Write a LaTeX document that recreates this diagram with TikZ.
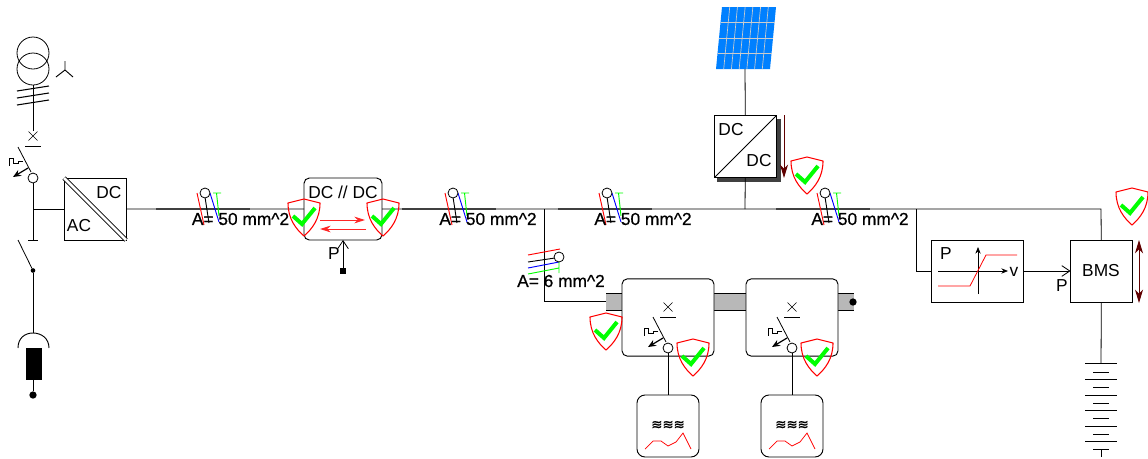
\documentclass[tikz,border=0pt]{standalone}
\usepackage{fontspec}
\setmainfont{Liberation Sans}
\newfontfamily\cablefont[FakeBold=0.6]{Liberation Sans}
\newfontfamily\wavefont[FakeBold=1.2]{DejaVu Sans}
\usetikzlibrary{arrows.meta}
\definecolor{darkred}{RGB}{96,0,0}
\definecolor{solarblue}{RGB}{0,128,255}
\tikzset{
  every node/.append style={font=\fontsize{13}{15}\selectfont,inner sep=0pt,outer sep=0pt},
  wire/.style={line width=0.6pt},
  box/.style={draw,fill=white,line width=0.7pt,minimum width=46.5pt,minimum height=46.5pt},
  roundbox/.style={box,rounded corners=4pt},
  swcircle/.style={draw,fill=white,circle,line width=0.6pt,minimum size=7.5pt},
  cablelabel/.style={font=\cablefont\fontsize{13}{15}\selectfont},
  cabletrunk/.style={line width=1pt,black!75},
  redarrow/.style={red!85!white,line width=0.7pt,-{Stealth[length=8pt,width=5pt]}},
  openarrow/.style={line width=0.6pt,-{Straight Barb[length=6pt,width=8pt]}},
  powerarrow/.style={darkred,line width=0.7pt},
  shield/.pic={
    \draw[red,line width=0.8pt,line join=round] (0,0) -- (16,4)
      .. controls (16,20) and (8,30) .. (0,37)
      .. controls (-8,30) and (-16,20) .. (-16,4) -- cycle;
    \draw[green,line width=3pt,line join=miter] (-11,17) -- (-2,25) -- (11,9);
  },
  cablev/.pic={
    \draw[red,line width=0.7pt] (-8,0) -- (-1,32);
    \draw[line width=0.7pt] (0,4) -- (4,30);
    \draw[blue,line width=0.7pt] (5,0) -- (14,29);
    \draw[green,line width=0.7pt] (11.5,0) -- (14,23) (8,0) -- (16,0);
    \draw[fill=white,line width=0.6pt] (0,0) circle (5);
  },
  cableh/.pic={
    \draw[red,line width=0.7pt] (-31,-2) -- (1,-8);
    \draw[line width=0.7pt] (-31,5) -- (-4,1);
    \draw[blue,line width=0.7pt] (-31,11) -- (0,5);
    \draw[green,line width=0.7pt] (-31,17) -- (0,11) (0,5) -- (0,16);
    \draw[fill=white,line width=0.6pt] (0,0) circle (5);
  },
  isolator/.pic={
    \draw[line width=0.5pt] (-4.5,-4.5) -- (4.5,4.5) (-4.5,4.5) -- (4.5,-4.5);
    \draw[line width=0.6pt] (-8,10) -- (8,10);
  },
  breaker/.pic={
    \draw[line width=0.6pt] (-15,-31) -- (-2,-6);
    \draw[line width=0.5pt] (-10,-17) -- (-15,-17) -- (-15,-15) -- (-20,-15) -- (-20,-20) -- (-24,-20) -- (-24,-12);
    \draw[line width=0.9pt,-{Stealth[length=6pt,width=5pt]}] (-5,-10) -- (-20,-1);
  },
  sensor/.pic={
    \node[font=\wavefont\fontsize{10}{12}\selectfont] at (0,0) {≋≋≋};
    \draw[red,line width=0.55pt] (-23,24) -- (-15,16) -- (-7,16) -- (0,21) -- (8,17) -- (15,8) -- (23,24);
  },
}
\begin{document}
\begin{tikzpicture}[x=0.75pt,y=-0.75pt]
\useasboundingbox (0,0) rectangle (1148,458);

% Junctions
\coordinate (jGrid) at (33,209);
\coordinate (jBranch) at (544,209);
\coordinate (jSolar) at (745,209);
\coordinate (jChar) at (916,209);
\coordinate (jBms) at (1101,209);
\coordinate (jFeed) at (544,301);
\coordinate (jBar) at (606,301);
\coordinate (jCharIn) at (916,271);

% Bus bar under the loads
\fill[black!28] (606,293) rectangle (854,310);
\draw[line width=0.6pt] (606,293) -- (854,293) (606,310) -- (854,310);
\node[fill=black,circle,minimum size=5.5pt] (barEnd) at (853,302) {};

% Grid side
\node[draw,circle,line width=0.6pt,minimum size=24pt] (trafoA) at (33,53) {};
\node[draw,circle,line width=0.6pt,minimum size=24pt] (trafoB) at (33,69) {};
\coordinate (isoTop) at (33,131);
\draw[wire] (trafoB) -- (isoTop);
\foreach \hy in {91,98,105}
  \draw[line width=0.8pt] (17,\hy) -- (49,\hy-5);
\draw[line width=0.7pt] (65,61) -- (65,70) -- (56,77) (65,70) -- (73,77);
\pic at (33,136) {isolator};
\node[swcircle] (swGrid) at (33,178) {};
\pic at (33,178) {breaker};
\coordinate (barGrid) at (33,240);
\draw[wire] (swGrid) -- (barGrid);
\draw[line width=0.6pt] (28,240) -- (38,240);
\draw[wire] (jGrid) -- (64,209);
\node[fill=black,circle,minimum size=3.5pt] (swDot) at (33,270.5) {};
\draw[line width=0.6pt] (18,240) -- (swDot);
\coordinate (arcTop) at (33,333);
\draw[wire] (swDot) -- (arcTop);
\draw[line width=0.7pt] (18,348) .. controls (18,338) and (25,333) .. (arcTop) .. controls (41,333) and (49,338) .. (49,348);
\node[fill=black,minimum width=12pt,minimum height=24pt] (fuse) at (34,364) {};
\node[fill=black,circle,minimum size=5.5pt] (fuseEnd) at (33,395) {};
\draw[wire] (33,380) -- (fuseEnd);

% Main bus
\node[box] (boxAC) at (95,209) {};
\node[roundbox,minimum width=58.5pt] (boxDcDc) at (343,209) {};
\node[box] (boxPv) at (745.5,146.5) {};
\node[box,minimum width=69.5pt] (boxChar) at (977.5,271) {};
\node[box] (boxBms) at (1101.5,271) {};
\draw[wire] (boxAC) -- (boxDcDc) -- (jBranch) -- (jSolar) -- (jChar) -- (jBms) -- (boxBms);
\draw[wire] (jBranch) -- (jFeed) -- (jBar);
\draw[wire] (jChar) -- (jCharIn) -- (boxChar);
\draw[cabletrunk] (156,209) -- (250,209);
\draw[cabletrunk] (402,209) -- (496,209);
\draw[cabletrunk] (558,209) -- (652,209);
\draw[cabletrunk] (776,209) -- (870,209);

% AC/DC
\draw[double,double distance=2pt,line width=0.6pt] (boxAC.north west) -- (boxAC.south east);
\node (acDc) at (109,193) {DC};
\node (acAc) at (79,226) {AC};

% DC//DC
\node (dcLabel) at (343,192) {DC // DC};
\draw[redarrow] (320,220) -- (365,220);
\draw[redarrow] (366,229) -- (320,229);
\node[fill=black,minimum size=4.5pt] (pFeed) at (343,271) {};
\draw[openarrow] (pFeed) -- (boxDcDc.south);
\node (pFeedLabel) at (334,254) {P};

% Solar
\fill[solarblue] (722,7) -- (776,7) -- (770,69) -- (716,69) -- cycle;
\foreach \col in {1,...,6}
  \draw[white!80!black,line width=0.5pt] ({722+54*\col/7},7) -- ({716+54*\col/7},69);
\foreach \row in {1,2,3}
  \draw[white!80!black,line width=0.5pt] ({722-1.5*\row},{7+15.5*\row}) -- ({776-1.5*\row},{7+15.5*\row});
\coordinate (panelEnd) at (745,69);
\draw[wire] (panelEnd) -- (boxPv);
\fill[black!75] (717,119) rectangle (780.5,181.5);
\node[box] (boxPvTop) at (745.5,146.5) {};
\draw[wire] (boxPvTop) -- (jSolar);
\draw[line width=0.7pt] (boxPvTop.south west) -- (boxPvTop.north east);
\node (pvIn) at (731,130) {DC};
\node (pvOut) at (759,161) {DC};
\draw[powerarrow,-{Stealth[length=10pt,width=6pt,inset=3pt]}] (784,115) -- (784,178);

% Cables
\pic at (205,193) {cablev};
\pic at (453,193) {cablev};
\pic at (607,193) {cablev};
\pic at (825,193) {cablev};
\pic at (559,257) {cableh};
\node[cablelabel] (cableA) at (240.5,219) {A= 50 mm\textasciicircum 2};
\node[cablelabel] (cableB) at (488,219) {A= 50 mm\textasciicircum 2};
\node[cablelabel] (cableC) at (643,219) {A= 50 mm\textasciicircum 2};
\node[cablelabel] (cableD) at (860,219) {A= 50 mm\textasciicircum 2};
\node[cablelabel] (cableE) at (561,281) {A= 6 mm\textasciicircum 2};

% Loads
\node[roundbox,minimum width=69pt,minimum height=58pt] (loadA) at (668,317.5) {};
\node[roundbox,minimum width=69pt,minimum height=58pt] (loadB) at (792,317.5) {};
\foreach \lx/\ln in {668/A,792/B} {
  \pic at (\lx,307) {isolator};
  \node[swcircle] (swLoad\ln) at (\lx,348) {};
  \pic at (\lx,348) {breaker};
  \node[roundbox,rounded corners=6pt] (sens\ln) at (\lx,426) {};
  \draw[wire] (swLoad\ln) -- (sens\ln);
  \pic at (\lx,425) {sensor};
}

% Charge curve
\draw[line width=0.6pt,-{Stealth[length=5pt,width=4pt]}] (938,271) -- (1008,271);
\draw[line width=0.6pt,-{Stealth[length=5pt,width=4pt]}] (978,294) -- (978,247);
\draw[red,line width=0.6pt] (938,286) -- (970,286) -- (986,255) -- (1017,255);
\node (charP) at (946,254) {P};
\node (charV) at (1014,272) {v};

% BMS
\node (bmsLabel) at (1101,271) {BMS};
\draw[openarrow] (boxChar) -- (boxBms);
\node (bmsP) at (1062,286) {P};
\draw[powerarrow,{Stealth[length=10pt,width=6pt,inset=3pt]}-{Stealth[length=10pt,width=6pt,inset=3pt]}] (1139,240) -- (1139,303);

% Battery
\coordinate (batTop) at (1101,363);
\draw[wire] (boxBms) -- (batTop);
\foreach \by/\bw in {363/16,372/8,379/16,387/8,395/16,403/8,410/16,418/8,426/16,434/8,441/16,449/8}
  \draw[line width=0.6pt] ({1101-\bw},\by) -- ({1101+\bw},\by);
\draw[wire] (1101,449) -- (1101,457);

% Protection
\pic at (304,199) {shield};
\pic at (383,199) {shield};
\pic at (807,157) {shield};
\pic at (1132,188) {shield};
\pic at (606,313) {shield};
\pic at (693,339) {shield};
\pic at (817,339) {shield};
\end{tikzpicture}
\end{document}
